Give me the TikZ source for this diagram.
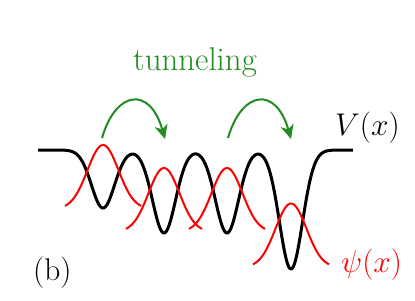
\RequirePackage{fix-cm}
\documentclass[tikz,border=0pt]{standalone}
\usetikzlibrary{arrows.meta}
\definecolor{tgreen}{RGB}{34,139,34}
\tikzset{
  pot/.style={black, line width=3bp, line join=round},
  wave/.style={red, line width=2bp},
  hop/.style={tgreen, line width=2bp, -{Stealth[length=14bp,width=13bp,inset=4bp]}},
  lbl/.style={inner sep=0pt, font=\fontsize{31.5}{36}\selectfont}
}
\begin{document}
\begin{tikzpicture}[x=1bp,y=-1bp]
\useasboundingbox (0,0) rectangle (415,301);
% potential
\draw[pot] plot[domain=38:353, samples=320, smooth]
  (\x, {150 + 58*exp(-((\x-103)/11.5)^2/2) + 83*exp(-((\x-164)/11.5)^2/2)
        + 83*exp(-((\x-227)/11.5)^2/2) + 119*exp(-((\x-291)/11.5)^2/2)});
% wavefunctions
\draw[wave] plot[domain=65:141, samples=80, smooth] (\x, {209 - 64*exp(-((\x-103)/15.5)^2/2)});
\draw[wave] plot[domain=126:202, samples=80, smooth] (\x, {232 - 64*exp(-((\x-164)/15.5)^2/2)});
\draw[wave] plot[domain=189:265, samples=80, smooth] (\x, {232 - 64*exp(-((\x-227)/15.5)^2/2)});
\draw[wave] plot[domain=253:329, samples=80, smooth] (\x, {267.5 - 64*exp(-((\x-291)/15.5)^2/2)});
% tunneling arrows
\coordinate (s1) at (102,138);
\coordinate (e1) at (165,139);
\coordinate (s2) at (228,138);
\coordinate (e2) at (291,139);
\draw[hop] (s1) .. controls (116,90) and (150,86) .. (e1);
\draw[hop] (s2) .. controls (242,90) and (276,86) .. (e2);
% labels
\node[lbl, text=tgreen, anchor=base, font=\fontsize{33}{38}\selectfont] (tun) at (195,70) {tunneling};
\node[lbl, anchor=base west] (vlab) at (335,135) {$V(x)$};
\node[lbl, text=red, anchor=base west] (plab) at (341,272) {$\psi(x)$};
\node[lbl, anchor=base west] (blab) at (33,280) {(b)};
\end{tikzpicture}
\end{document}
